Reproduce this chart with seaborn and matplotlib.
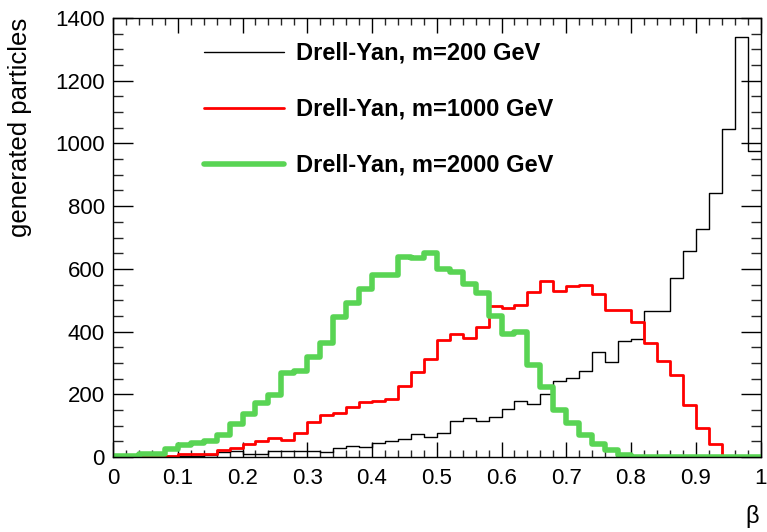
import numpy as np
import pandas as pd
import matplotlib
matplotlib.use("Agg")
import matplotlib.pyplot as plt
import seaborn as sns
from matplotlib.ticker import MultipleLocator

# ---- data (bin contents, 50 bins from 0 to 1) ----
bin_edges = np.linspace(0.0, 1.0, 51)
bin_centers = 0.5 * (bin_edges[:-1] + bin_edges[1:])

dy_200 = [0, 0, 1, 1, 2, 3, 4, 6, 15, 20,
          10, 10, 19, 19, 19, 20, 17, 28, 35, 31,
          45, 50, 58, 73, 65, 77, 116, 123, 116, 127,
          153, 177, 170, 201, 242, 252, 274, 335, 304, 370,
          375, 465, 465, 572, 658, 727, 842, 1046, 1340, 975]

dy_1000 = [0, 0, 0, 1, 4, 8, 10, 9, 22, 28,
           41, 50, 62, 55, 76, 113, 134, 139, 160, 175,
           179, 186, 228, 270, 311, 373, 392, 378, 414, 481,
           475, 486, 526, 561, 528, 545, 548, 520, 468, 468,
           429, 362, 307, 261, 167, 93, 42, 0, 0, 0]

dy_2000 = [3, 3, 8, 9, 24, 37, 46, 51, 69, 106,
           137, 172, 199, 267, 273, 320, 364, 446, 492, 536,
           579, 582, 639, 635, 650, 600, 589, 553, 524, 451,
           391, 399, 293, 223, 151, 110, 71, 40, 21, 7,
           1, 1, 1, 1, 1, 1, 1, 1, 1, 1]

labels = ["Drell-Yan, m=200 GeV", "Drell-Yan, m=1000 GeV", "Drell-Yan, m=2000 GeV"]
colors = ["#000000", "#ff0000", "#59d454"]
widths = [1.0, 2.0, 4.0]
x_ticks = [0, 0.1, 0.2, 0.3, 0.4, 0.5, 0.6, 0.7, 0.8, 0.9, 1]
x_ticklabels = ["0", "0.1", "0.2", "0.3", "0.4", "0.5", "0.6", "0.7", "0.8", "0.9", "1"]
y_ticks = [0, 200, 400, 600, 800, 1000, 1200, 1400]

sns.set_theme(style="white")
plt.rcParams["font.family"] = ["Liberation Sans", "DejaVu Sans"]

fig = plt.figure(figsize=(7.67, 5.32), dpi=100)
ax = fig.add_axes([113 / 767, 1 - 457 / 532, (760.5 - 113) / 767, (457 - 18) / 532])

series = [dy_200, dy_1000, dy_2000]
for vals, lab, col, lw in zip(series, labels, colors, widths):
    df = pd.DataFrame({"beta": bin_centers, "n": np.asarray(vals, dtype=float)})
    sns.histplot(data=df, x="beta", weights="n", binwidth=0.02, binrange=(0.0, 1.0),
                 element="step", fill=False, color=col, linewidth=lw, label=lab, ax=ax)

ax.set_xlim(0, 1)
ax.set_ylim(0, 1400)
ax.set_xticks(x_ticks)
ax.set_xticklabels(x_ticklabels)
ax.set_yticks(y_ticks)
ax.xaxis.set_minor_locator(MultipleLocator(0.02))
ax.yaxis.set_minor_locator(MultipleLocator(50))

for sp in ax.spines.values():
    sp.set_color("black")
    sp.set_linewidth(1.0)

ax.tick_params(axis="x", which="major", direction="in", length=11, width=1,
               top=True, bottom=True, labelsize=16, pad=8, colors="black")
ax.tick_params(axis="x", which="minor", direction="in", length=5, width=1,
               top=True, bottom=True)
ax.tick_params(axis="y", which="major", direction="in", length=14.4, width=1,
               left=True, right=True, labelsize=16, pad=6, colors="black")
ax.tick_params(axis="y", which="minor", direction="in", length=7.2, width=1,
               left=True, right=True)

ax.set_ylabel("generated particles", fontsize=18.5, loc="top", color="black")
ax.yaxis.set_label_coords(-0.125, 1.0)
ax.set_xlabel("β", fontsize=17, loc="right", color="black")
ax.xaxis.set_label_coords(0.997, -0.11)

leg = ax.legend(loc="upper left", bbox_to_anchor=(0.108, 0.994), frameon=False,
                handlelength=3.4, handletextpad=0.5, labelspacing=1.40,
                labelcolor="black",
                prop={"family": "Liberation Sans", "weight": "bold", "size": 17})

fig.savefig("out.png", dpi=100, facecolor="white")
